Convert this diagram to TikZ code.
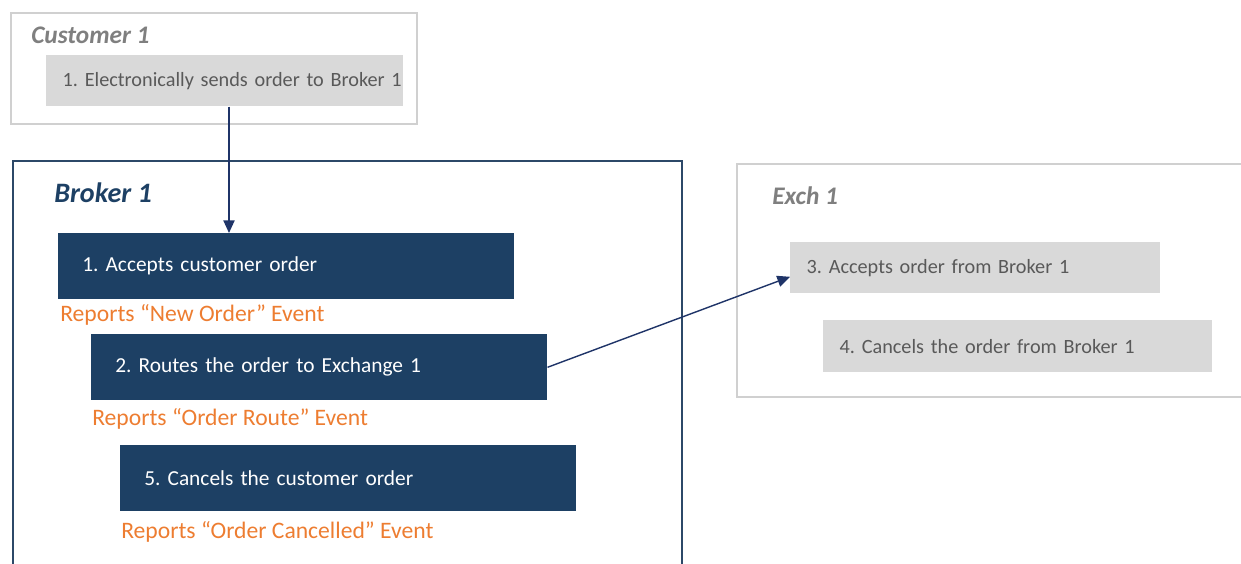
\documentclass[tikz,border=0pt]{standalone}
\usepackage{fontspec}
\setmainfont{Carlito}
\frenchspacing
\usetikzlibrary{arrows.meta}
\definecolor{navy}{RGB}{29,64,100}
\definecolor{navyline}{RGB}{44,72,104}
\definecolor{arrnavy}{RGB}{31,52,104}
\definecolor{lgray}{RGB}{208,208,208}
\definecolor{fgray}{RGB}{217,217,217}
\definecolor{tgray}{RGB}{89,89,89}
\definecolor{ttlgray}{RGB}{127,127,127}
\definecolor{evorange}{RGB}{237,125,49}

\begin{document}
\begin{tikzpicture}[
  frame/.style={draw=lgray,line width=1.1pt,anchor=north west,inner sep=0pt},
  dbox/.style={fill=navy,text=white,anchor=north west,minimum height=1.65cm,text width=11.4cm,inner xsep=0pt,align=left,
    font=\fontsize{15.2}{18}\selectfont,execute at begin node={\hspace*{0.6cm}}},
  gbox/.style={fill=fgray,text=tgray,anchor=north west,inner xsep=0pt,align=left,
    font=\fontsize{14.4}{17}\selectfont,execute at begin node={\hspace*{0.41cm}}},
  ttl/.style={anchor=west,inner sep=0pt,font=\fontsize{18}{21}\selectfont\bfseries\itshape},
  rep/.style={anchor=west,inner sep=0pt,text=evorange,font=\fontsize{16.8}{19}\selectfont},
  arr/.style={arrnavy,line width=1pt,-{Triangle[length=9pt,width=8pt]}}]
  \useasboundingbox (0,0) rectangle (31.025,14.075);
  % Customer
  \node[frame,minimum width=10.15cm,minimum height=2.775cm] (cust) at (0.25,13.775) {};
  \node[ttl,text=ttlgray] (custttl) at (0.775,13.2) {Customer 1};
  \node[gbox,minimum height=1.275cm,text width=8.925cm] (s0) at (1.15,12.7) {1. Electronically sends order to Broker 1};
  % Broker
  \node[frame,draw=navyline,line width=1.4pt,minimum width=16.725cm,minimum height=10.575cm] (brk) at (0.3,10.075) {};
  \node[ttl,text=navy,font=\fontsize{20}{23}\selectfont\bfseries\itshape] (brkttl) at (1.35,9.25) {Broker 1};
  \node[dbox] (s1) at (1.45,8.25) {1. Accepts customer order};
  \node[rep] (r1) at (1.5,6.2) {Reports “New Order” Event};
  \node[dbox] (s2) at (2.275,5.725) {2. Routes the order to Exchange 1};
  \node[rep] (r2) at (2.3,3.6) {Reports “Order Route” Event};
  \node[dbox] (s5) at (3.0,2.95) {5. Cancels the customer order};
  \node[rep] (r5) at (3.025,0.775) {Reports “Order Cancelled” Event};
  % Exchange
  \node[frame,minimum width=12.9cm,minimum height=5.825cm] (exch) at (18.4,10.0) {};
  \node[ttl,text=ttlgray] (exchttl) at (19.3,9.175) {Exch 1};
  \node[gbox,minimum height=1.275cm,text width=9.25cm] (s3) at (19.75,8.025) {3. Accepts order from Broker 1};
  \node[gbox,minimum height=1.3cm,text width=9.725cm] (s4) at (20.575,6.075) {4. Cancels the order from Broker 1};
  % spojnice
  \draw[arr] ([xshift=4.575cm]s0.south west) -- ([xshift=4.575cm]s0.south west |- s1.north);
  \draw[arr] (s2.east) -- ([yshift=-0.225cm]s3.west);
\end{tikzpicture}
\end{document}
